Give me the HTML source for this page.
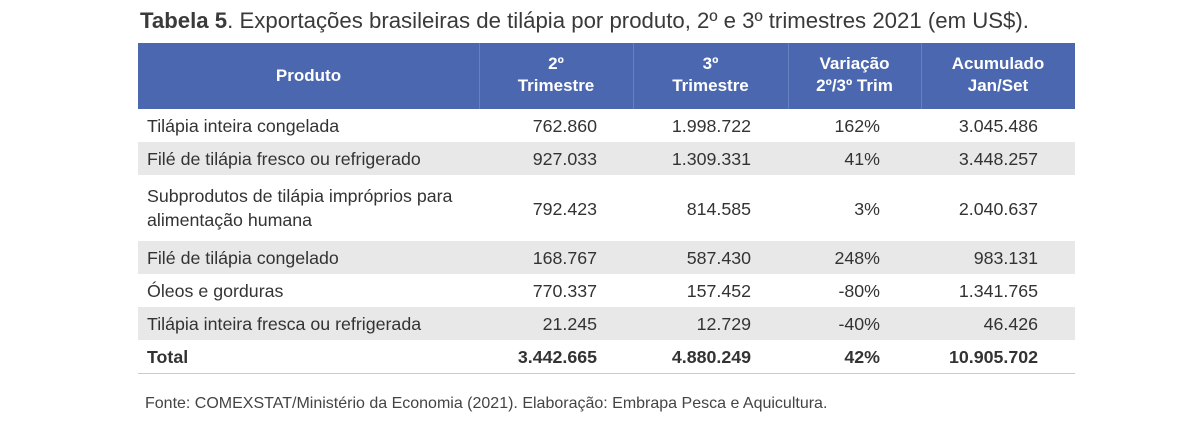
<!DOCTYPE html>
<html><head><meta charset="utf-8"><style>
body{margin:0;width:1200px;height:427px;background:#fff;position:relative;overflow:hidden;font-family:"Liberation Sans",sans-serif;color:#333}
.a{position:absolute;white-space:nowrap}
.t{font-size:17.8px;line-height:20px}
.h{color:#fff;font-weight:bold;font-size:17px;line-height:22px;text-align:center}
.r{text-align:right}
.g{position:absolute;left:138px;width:937px;background:#e8e8e8}
.b{font-weight:bold}
</style></head><body>
<div class="a" style="left:140px;top:8px;font-size:22.2px;color:#3a3a3a"><b>Tabela 5</b>. Exportações brasileiras de tilápia por produto, 2º e 3º trimestres 2021 (em US$).</div>
<div class="a" style="left:138px;top:43px;width:937px;height:66px;background:#4a67b0"></div>
<div class="a" style="left:479px;top:43px;width:1px;height:66px;background:#6680c0"></div>
<div class="a" style="left:633px;top:43px;width:1px;height:66px;background:#6680c0"></div>
<div class="a" style="left:788px;top:43px;width:1px;height:66px;background:#6680c0"></div>
<div class="a" style="left:921px;top:43px;width:1px;height:66px;background:#6680c0"></div>
<div class="a h" style="left:138px;top:65px;width:341px">Produto</div>
<div class="a h" style="left:479px;top:53px;width:154px">2º<br>Trimestre</div>
<div class="a h" style="left:633px;top:53px;width:155px">3º<br>Trimestre</div>
<div class="a h" style="left:788px;top:53px;width:133px">Variação<br>2º/3º Trim</div>
<div class="a h" style="left:921px;top:53px;width:154px">Acumulado<br>Jan/Set</div>
<div class="g" style="top:142px;height:33px"></div>
<div class="g" style="top:241px;height:33px"></div>
<div class="g" style="top:307px;height:33px"></div>
<div class="a" style="left:138px;top:373px;width:937px;height:1px;background:#ccc"></div>

<div class="a t" style="left:147px;top:116px">Tilápia inteira congelada</div>
<div class="a t r" style="left:480px;width:117px;top:116px">762.860</div>
<div class="a t r" style="left:634px;width:117px;top:116px">1.998.722</div>
<div class="a t r" style="left:790px;width:90px;top:116px">162%</div>
<div class="a t r" style="left:922px;width:116px;top:116px">3.045.486</div>

<div class="a t" style="left:147px;top:149px">Filé de tilápia fresco ou refrigerado</div>
<div class="a t r" style="left:480px;width:117px;top:149px">927.033</div>
<div class="a t r" style="left:634px;width:117px;top:149px">1.309.331</div>
<div class="a t r" style="left:790px;width:90px;top:149px">41%</div>
<div class="a t r" style="left:922px;width:116px;top:149px">3.448.257</div>

<div class="a t" style="left:147px;top:184px;line-height:24px">Subprodutos de tilápia impróprios para<br>alimentação humana</div>
<div class="a t r" style="left:480px;width:117px;top:199px">792.423</div>
<div class="a t r" style="left:634px;width:117px;top:199px">814.585</div>
<div class="a t r" style="left:790px;width:90px;top:199px">3%</div>
<div class="a t r" style="left:922px;width:116px;top:199px">2.040.637</div>

<div class="a t" style="left:147px;top:248px">Filé de tilápia congelado</div>
<div class="a t r" style="left:480px;width:117px;top:248px">168.767</div>
<div class="a t r" style="left:634px;width:117px;top:248px">587.430</div>
<div class="a t r" style="left:790px;width:90px;top:248px">248%</div>
<div class="a t r" style="left:922px;width:116px;top:248px">983.131</div>

<div class="a t" style="left:147px;top:281px">Óleos e gorduras</div>
<div class="a t r" style="left:480px;width:117px;top:281px">770.337</div>
<div class="a t r" style="left:634px;width:117px;top:281px">157.452</div>
<div class="a t r" style="left:790px;width:90px;top:281px">-80%</div>
<div class="a t r" style="left:922px;width:116px;top:281px">1.341.765</div>

<div class="a t" style="left:147px;top:314px">Tilápia inteira fresca ou refrigerada</div>
<div class="a t r" style="left:480px;width:117px;top:314px">21.245</div>
<div class="a t r" style="left:634px;width:117px;top:314px">12.729</div>
<div class="a t r" style="left:790px;width:90px;top:314px">-40%</div>
<div class="a t r" style="left:922px;width:116px;top:314px">46.426</div>

<div class="a t b" style="left:147px;top:347px">Total</div>
<div class="a t r b" style="left:480px;width:117px;top:347px">3.442.665</div>
<div class="a t r b" style="left:634px;width:117px;top:347px">4.880.249</div>
<div class="a t r b" style="left:790px;width:90px;top:347px">42%</div>
<div class="a t r b" style="left:922px;width:116px;top:347px">10.905.702</div>

<div class="a" style="left:145px;top:395px;font-size:16px;color:#444">Fonte: COMEXSTAT/Ministério da Economia (2021). Elaboração: Embrapa Pesca e Aquicultura.</div>
</body></html>
